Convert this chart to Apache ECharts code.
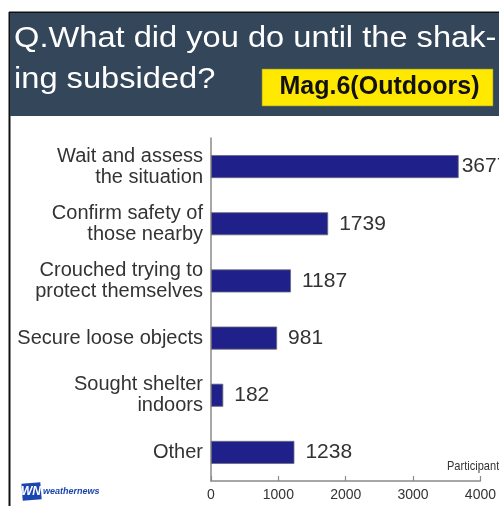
<!DOCTYPE html>
<html>
<head>
<meta charset="utf-8">
<script src="https://cdn.jsdelivr.net/npm/echarts@6/dist/echarts.min.js"></script>
<style>
  html, body { margin: 0; padding: 0; background: #ffffff; }
  #chart { width: 499px; height: 506px; }
</style>
</head>
<body>
<div id="chart"></div>
<script>
// Survey answers: what respondents did until the shaking subsided
const categories = [
  'Wait and assess\nthe situation',
  'Confirm safety of\nthose nearby',
  'Crouched trying to\nprotect themselves',
  'Secure loose objects',
  'Sought shelter\nindoors',
  'Other'
];
const participants = [3677, 1739, 1187, 981, 182, 1238];
const axisTicks = [0, 1000, 2000, 3000, 4000];

const titleLine1 = 'Q.What did you do until the shak-';
const titleLine2 = 'ing subsided?';
const badgeText = 'Mag.6(Outdoors)';
const axisUnit = 'Participants';

const sans = '"Liberation Sans", Arial, Helvetica, sans-serif';

const chart = echarts.init(document.getElementById('chart'), null, { renderer: 'canvas' });

// the longest bar sits close to the frame edge, so its label hugs the bar
const barData = participants.map((v, i) => i === 0
  ? { value: v, label: { distance: 3 } }
  : { value: v });

chart.setOption({
  backgroundColor: '#ffffff',
  animation: false,
  grid: { left: 211, right: 17, top: 138, height: 343, containLabel: false },
  xAxis: {
    type: 'value',
    min: axisTicks[0],
    max: axisTicks[axisTicks.length - 1],
    interval: axisTicks[1] - axisTicks[0],
    axisLine: { show: true, lineStyle: { color: '#8a8a8a', width: 1.5 } },
    axisTick: { show: true, inside: true, length: 5, lineStyle: { color: '#8a8a8a', width: 1.2 } },
    splitLine: { show: false },
    axisLabel: {
      color: '#333', fontSize: 14, fontFamily: sans, margin: 7,
      formatter: (v) => String(v)
    }
  },
  yAxis: {
    type: 'category',
    inverse: true,
    data: categories,
    axisLine: { show: true, lineStyle: { color: '#8a8a8a', width: 1.5 } },
    axisTick: { show: false },
    axisLabel: { color: '#333', fontSize: 20, fontFamily: sans, lineHeight: 21, margin: 8, align: 'right' }
  },
  series: [{
    type: 'bar',
    data: barData,
    barWidth: 23,
    itemStyle: { color: '#20208a', borderColor: '#6a6a7a', borderWidth: 0.8 },
    label: {
      show: true,
      position: 'right',
      distance: 11,
      color: '#333',
      fontSize: 21,
      fontFamily: sans
    }
  }],
  graphic: [
    // outer frame
    { type: 'line', shape: { x1: 9.5, y1: 12, x2: 9.5, y2: 506 }, style: { stroke: '#111', lineWidth: 2 } },
    { type: 'line', shape: { x1: 9, y1: 12.5, x2: 499, y2: 12.5 }, style: { stroke: '#111', lineWidth: 2 } },
    // header band
    { type: 'rect', shape: { x: 10, y: 13, width: 489, height: 103 }, style: { fill: '#34475a' } },
    { type: 'text', x: 14, y: 39, scaleX: 1.125, originX: 0, originY: 0,
      style: { text: titleLine1, fill: '#ffffff', font: '29px ' + sans, verticalAlign: 'middle' } },
    { type: 'text', x: 14, y: 80, scaleX: 1.125, originX: 0, originY: 0,
      style: { text: titleLine2, fill: '#ffffff', font: '29px ' + sans, verticalAlign: 'middle' } },
    { type: 'rect', shape: { x: 262, y: 69, width: 231, height: 37 }, style: { fill: '#ffe900', stroke: '#8c8a3a', lineWidth: 0.6 } },
    { type: 'text', x: 379.5, y: 87.5,
      style: { text: badgeText, fill: '#111', font: 'bold 25px ' + sans, align: 'center', verticalAlign: 'middle' } },
    // axis unit, narrowed to a condensed look
    { type: 'text', x: 447, y: 466, scaleX: 0.85, originX: 0, originY: 0,
      style: { text: axisUnit, fill: '#333', font: '13px ' + sans, align: 'left', verticalAlign: 'middle' } },
    // brand mark
    { type: 'rect', shape: { x: 22, y: 483, width: 19, height: 17 }, rotation: 0.08, originX: 31, originY: 491, style: { fill: '#1b45b0' } },
    { type: 'text', x: 31, y: 492, style: { text: 'WN', fill: '#ffffff', font: 'italic bold 12px ' + sans, align: 'center', verticalAlign: 'middle' } },
    { type: 'text', x: 43, y: 492, style: { text: 'weathernews', fill: '#1b45b0', font: 'italic bold 9px ' + sans, align: 'left', verticalAlign: 'middle' } }
  ]
});
</script>
</body>
</html>
